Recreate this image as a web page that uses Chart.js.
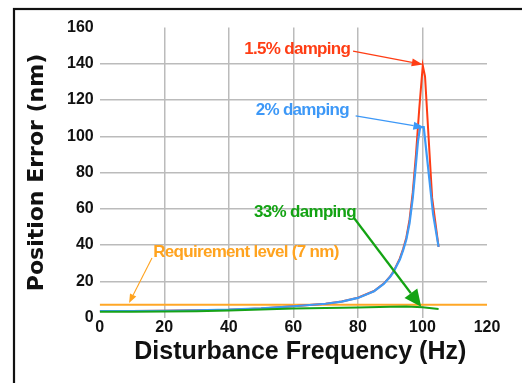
<!DOCTYPE html>
<html><head><meta charset="utf-8">
<script src="https://cdn.jsdelivr.net/npm/chart.js@4.4.1/dist/chart.umd.min.js"></script>
<style>html,body{margin:0;padding:0;background:#fff;overflow:hidden}</style>
</head><body>
<canvas id="c" width="522" height="383" style="display:block;width:522px;height:383px"></canvas>
<script>
// ---- data ----
const redFreq  = [0, 10, 20, 30, 40, 50, 60, 70, 75, 80, 85, 88, 90, 91, 92, 93, 94, 95, 96, 97, 98, 99, 100.1, 100.8, 103, 105];
const redErr   = [3.6, 3.6, 3.7, 4.0, 4.3, 5.0, 6.2, 7.6, 8.8, 10.9, 14.6, 18.7, 22.7, 25.3, 28.9, 32.6, 37.8, 44, 54, 69, 90, 115, 139, 133, 66, 39];
const blueFreq = [0, 10, 20, 30, 40, 50, 60, 70, 75, 80, 85, 88, 90, 91, 92, 93, 94, 95, 96, 97, 98, 98.6, 99.3, 100.4, 103.3, 105];
const blueErr  = [3.6, 3.6, 3.7, 4.0, 4.3, 5.0, 6.2, 7.6, 8.8, 10.8, 14.5, 18.5, 22.5, 25, 28.5, 32, 37, 43, 52, 66, 85, 97, 105, 105, 57, 39];
const greenFreq = [0, 10, 20, 30, 40, 50, 60, 70, 80, 90, 95, 100, 105];
const greenErr  = [3.2, 3.2, 3.3, 3.4, 3.8, 4.4, 4.9, 5.2, 5.5, 5.9, 6.0, 5.6, 4.7];
const reqFreq = [0, 120];
const reqErr  = [7, 7];
const seriesNames = ['Requirement level (7 nm)', '1.5% damping', '2% damping', '33% damping'];
const xTicks = [0, 20, 40, 60, 80, 100, 120];
const yTicks = [0, 20, 40, 60, 80, 100, 120, 140, 160];

const pts = (xs, ys) => xs.map((x, i) => ({x, y: ys[i]}));

// annotation labels (data coordinates)
const notes = [
  {text: '1.5% damping', color: '#ff3d14', at: [77.6, 148.2], align: 'right', from: [78.5, 147], to: [100.1, 139.6], lw: 1.3, hl: 11, hw: 4},
  {text: '2% damping', color: '#3d98f7', at: [77.2, 114.5], align: 'right', from: [79.3, 111.2], to: [100.6, 104.8], lw: 1.3, hl: 11, hw: 4},
  {text: '33% damping', color: '#13a313', at: [79.4, 57.8], align: 'right', from: [78.8, 54.9], to: [99.6, 5.9], lw: 2.2, hl: 17, hw: 8},
  {text: 'Requirement level (7 nm)', color: '#ffa31f', at: [16.6, 36.1], align: 'left', from: [16.2, 32.8], to: [9.1, 8], lw: 1.1, hl: 9, hw: 3.5}
];

const overlay = {
  id: 'overlay',
  beforeDraw(chart) {
    const c = chart.ctx;
    c.save();
    c.fillStyle = '#fff';
    c.fillRect(0, 0, chart.width, chart.height);
    c.strokeStyle = '#111';
    c.lineWidth = 2.2;
    c.strokeRect(14, 9, 700, 700);
    c.restore();
  },
  afterDatasetsDraw(chart) {
    const c = chart.ctx, xs = chart.scales.x, ys = chart.scales.y;
    c.save();
    for (const n of notes) {
      const tx = xs.getPixelForValue(n.at[0]), ty = ys.getPixelForValue(n.at[1]);
      c.font = 'bold 17px "Liberation Sans", Arial, sans-serif';
      c.fillStyle = n.color;
      c.textAlign = n.align;
      c.textBaseline = 'middle';
      try { c.letterSpacing = '-0.7px'; } catch (e) {}
      c.fillText(n.text, tx, ty);
      try { c.letterSpacing = '0px'; } catch (e) {}
      const x0 = xs.getPixelForValue(n.from[0]), y0 = ys.getPixelForValue(n.from[1]);
      const x1 = xs.getPixelForValue(n.to[0]), y1 = ys.getPixelForValue(n.to[1]);
      const a = Math.atan2(y1 - y0, x1 - x0);
      const bx = x1 - Math.cos(a) * n.hl, by = y1 - Math.sin(a) * n.hl;
      c.strokeStyle = n.color; c.lineWidth = n.lw;
      c.beginPath(); c.moveTo(x0, y0); c.lineTo(bx, by); c.stroke();
      c.beginPath();
      c.moveTo(x1, y1);
      c.lineTo(bx + Math.sin(a) * n.hw, by - Math.cos(a) * n.hw);
      c.lineTo(bx - Math.sin(a) * n.hw, by + Math.cos(a) * n.hw);
      c.closePath(); c.fill();
    }
    c.restore();
  }
};

const gridColor = (ctx) => (ctx.index === 0 || ctx.index === ctx.scale.ticks.length - 1) ? 'rgba(0,0,0,0)' : '#bbbbbb';
const tickFont = {family: '"Liberation Sans", Arial, sans-serif', weight: 'bold', size: 16};

new Chart(document.getElementById('c'), {
  type: 'scatter',
  data: {
    datasets: [
      {label: seriesNames[0], data: pts(reqFreq, reqErr), borderColor: '#ffa726', borderWidth: 2, order: 3},
      {label: seriesNames[1], data: pts(redFreq, redErr), borderColor: '#ff3c14', borderWidth: 2, order: 2},
      {label: seriesNames[2], data: pts(blueFreq, blueErr), borderColor: '#3f9af5', borderWidth: 2.2, order: 1},
      {label: seriesNames[3], data: pts(greenFreq, greenErr), borderColor: '#17a317', borderWidth: 2, order: 0}
    ].map(d => Object.assign(d, {showLine: true, pointRadius: 0, tension: 0, fill: false}))
  },
  options: {
    responsive: false,
    animation: false,
    devicePixelRatio: 1,
    layout: {padding: {left: 14, top: 27.5, right: 35, bottom: 0}},
    plugins: {legend: {display: false}, tooltip: {enabled: false}},
    scales: {
      x: {
        type: 'linear', min: 0, max: 120,
        afterBuildTicks: s => { s.ticks = xTicks.map(v => ({value: v})); },
        afterFit: s => { s.height = 65.5; },
        border: {display: false},
        grid: {color: gridColor, lineWidth: 1.5, drawTicks: false},
        ticks: {color: '#111', font: tickFont, padding: 0, maxRotation: 0},
        title: {display: true, text: '  Disturbance Frequency (Hz)', color: '#111',
                font: {family: '"Liberation Sans", Arial, sans-serif', weight: 'bold', size: 25},
                padding: {top: 0, bottom: 16}}
      },
      y: {
        type: 'linear', min: 0, max: 160,
        afterBuildTicks: s => { s.ticks = yTicks.map(v => ({value: v})); },
        afterFit: s => { s.width = 85.7; },
        border: {display: false},
        grid: {color: gridColor, lineWidth: 1.5, drawTicks: false},
        ticks: {color: '#111', font: tickFont, padding: 6},
        title: {display: true, text: 'Position Error (nm)', color: '#111',
                font: {family: '"DejaVu Sans", Verdana, sans-serif', weight: 'bold', size: 22},
                padding: {top: 10, bottom: 0}}
      }
    }
  },
  plugins: [overlay]
});
</script>
</body></html>
